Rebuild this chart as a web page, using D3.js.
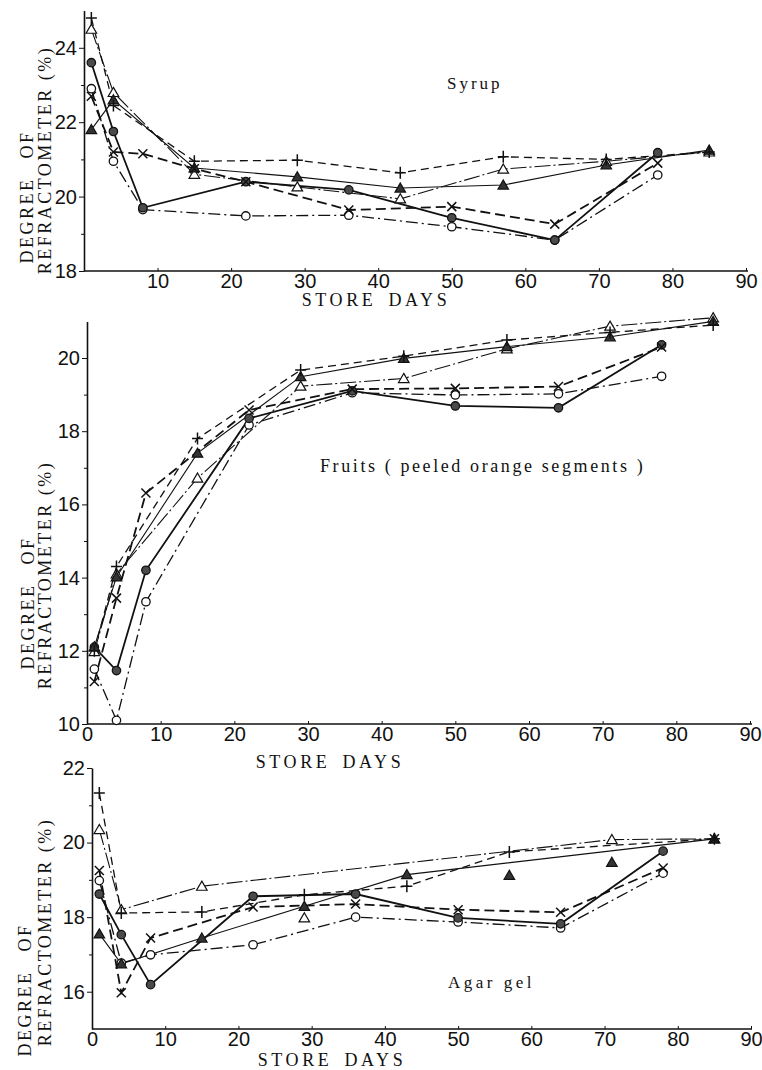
<!DOCTYPE html>
<html>
<head>
<meta charset="utf-8">
<script src="https://cdn.jsdelivr.net/npm/d3@7"></script>
<style>
	body { margin: 0; background: #fff; }
	svg { display: block; }
	.tick text { font-family: 'Liberation Sans Narrow', 'Arial Narrow', 'Liberation Sans', sans-serif; font-size: 20px; fill: #111; }
	.axis path, .axis line { stroke: #111; }
	.serif { font-family: 'Liberation Serif', 'DejaVu Serif', serif; fill: #111; }
</style>
</head>
<body>
<div id="chart"></div>
<script>
// sampling days shared by all panels
const storeDays = [1, 4, 8, 15, 22, 29, 36, 43, 50, 57, 64, 71, 78, 85];

// Syrup
const syrupOpenCircle = [22.9, 20.95, 19.65, null, 19.48, null, 19.5, null, 19.19, null, 18.83, null, 20.58, null];
const syrupFilledCircle = [23.6, 21.75, 19.7, null, 20.4, null, 20.18, null, 19.43, null, 18.83, null, 21.18, null];
const syrupOpenTriangle = [24.5, 22.8, null, 20.6, null, 20.26, null, 19.94, null, 20.74, null, 20.95, null, 21.2];
const syrupFilledTriangle = [21.8, 22.6, null, 20.77, null, 20.53, null, 20.23, null, 20.31, null, 20.85, null, 21.25];
const syrupPlus = [24.8, 22.45, null, 20.95, null, 20.98, null, 20.64, null, 21.07, null, 21.0, null, 21.2];
const syrupCross = [22.7, 21.2, 21.15, 20.75, 20.4, null, 19.64, null, 19.73, null, 19.26, null, 20.9, null];

// Fruits (peeled orange segments)
const fruitOpenCircle = [11.5, 10.1, 13.34, null, 18.17, null, 19.05, null, 18.99, null, 19.02, null, 19.5, null];
const fruitFilledCircle = [12.1, 11.46, 14.2, null, 18.35, null, 19.1, null, 18.69, null, 18.64, null, 20.36, null];
const fruitOpenTriangle = [11.98, 14.1, null, 16.72, null, 19.23, null, 19.44, null, 20.25, null, 20.87, null, 21.1];
const fruitFilledTriangle = [12.11, 14.02, null, 17.4, null, 19.49, null, 19.99, null, 20.31, null, 20.58, null, 21.0];
const fruitPlus = [12.0, 14.3, null, 17.8, null, 19.67, null, 20.05, null, 20.49, null, 20.7, null, 20.9];
const fruitCross = [11.16, 13.44, 16.31, null, 18.58, null, 19.15, null, 19.17, null, 19.22, null, 20.3, null];

// Agar gel
const agarOpenCircle = [18.98, 16.77, 16.99, null, 17.26, null, 18.0, null, 17.87, null, 17.71, null, 19.18, null];
const agarFilledCircle = [18.62, 17.53, 16.19, null, 18.56, null, 18.62, null, 17.98, null, 17.82, null, 19.77, null];
const agarOpenTriangle = [20.35, 18.2, null, 18.83, null, null, null, null, null, null, null, 20.08, null, 20.1];
const agarFilledTriangle = [17.55, 16.75, null, 17.44, null, 18.29, null, 19.14, null, null, null, null, null, 20.1];
const agarPlus = [21.33, 18.11, null, 18.14, null, 18.6, null, 18.83, null, 19.75, null, null, null, 20.1];
const agarCross = [19.25, 15.97, 17.44, null, 18.27, null, 18.35, null, 18.2, null, 18.13, null, 19.32, null];
// points plotted without a joining line
const agarLooseKind = ['openTriangle', 'filledTriangle', 'filledTriangle', 'cross'];
const agarLooseDay = [29, 57, 71, 85];
const agarLooseValue = [17.98, 19.12, 19.47, 20.1];

// tick labels
const xTicksSyrup = [10, 20, 30, 40, 50, 60, 70, 80, 90];
const xTicksFull = [0, 10, 20, 30, 40, 50, 60, 70, 80, 90];
const syrupYTicks = [18, 20, 22, 24];
const syrupYMinor = [19, 21, 23];
const fruitYTicks = [10, 12, 14, 16, 18, 20];
const fruitYMinor = [11, 13, 15, 17, 19];
const agarYTicks = [16, 18, 20, 22];
const agarYMinor = [17, 19, 21];

const lineStyle = {
	openCircle: { dash: '12,4,2,4', width: 1.3 },
	filledCircle: { dash: null, width: 1.8 },
	openTriangle: { dash: '16,3,2,3', width: 1.1 },
	filledTriangle: { dash: null, width: 1.1 },
	plus: { dash: '8,5', width: 1.3 },
	cross: { dash: '10,5', width: 1.8 },
};

const svg = d3.select('#chart').append('svg')
	.attr('width', 762)
	.attr('height', 1070);

function drawMarker(g, kind, cx, cy) {
	if (kind === 'openCircle' || kind === 'filledCircle') {
		g.append('circle')
			.attr('cx', cx).attr('cy', cy).attr('r', 4.2)
			.style('fill', kind === 'openCircle' ? '#fff' : '#4a4a4a')
			.style('stroke', '#111').style('stroke-width', 1.3);
	} else if (kind === 'openTriangle' || kind === 'filledTriangle') {
		const tri = d3.symbol().type(d3.symbolTriangle).size(48);
		g.append('path')
			.attr('d', tri())
			.attr('transform', `translate(${cx},${cy + 1})`)
			.style('fill', kind === 'openTriangle' ? '#fff' : '#333')
			.style('stroke', '#111').style('stroke-width', 1.2);
	} else if (kind === 'plus') {
		g.append('path')
			.attr('d', `M${cx - 5.5},${cy}H${cx + 5.5}M${cx},${cy - 6}V${cy + 6}`)
			.style('stroke', '#111').style('stroke-width', 1.5);
	} else if (kind === 'cross') {
		g.append('path')
			.attr('d', `M${cx - 4.5},${cy - 4.5}L${cx + 4.5},${cy + 4.5}M${cx + 4.5},${cy - 4.5}L${cx - 4.5},${cy + 4.5}`)
			.style('stroke', '#111').style('stroke-width', 1.5);
	}
}

function drawPanel(p) {
	const x = d3.scaleLinear().domain([0, 90]).range(p.xRange);
	const y = d3.scaleLinear().domain(p.yDomain).range(p.yRange);
	const g = svg.append('g');

	// axes
	const xAxis = d3.axisBottom(x)
		.tickValues(p.xTicks)
		.tickFormat(d3.format('d'))
		.tickSize(-3)
		.tickSizeOuter(0)
		.tickPadding(3);
	g.append('g')
		.attr('class', 'axis')
		.attr('transform', `translate(0,${p.yRange[0]})`)
		.call(xAxis)
		.call(a => a.select('.domain').attr('d', `M${p.xRange[0]},0H${p.xEnd}`).style('stroke-width', 1.6));

	const yAxis = d3.axisLeft(y)
		.tickValues(p.yTicks)
		.tickFormat(d3.format('d'))
		.tickSize(5)
		.tickSizeOuter(0)
		.tickPadding(2);
	g.append('g')
		.attr('class', 'axis')
		.attr('transform', `translate(${p.xRange[0]},0)`)
		.call(yAxis)
		.call(a => a.select('.domain').style('stroke-width', 1.6));
	g.append('g')
		.attr('class', 'axis')
		.attr('transform', `translate(${p.xRange[0]},0)`)
		.call(d3.axisLeft(y).tickValues(p.yMinor).tickSize(3).tickFormat(''))
		.call(a => a.select('.domain').remove());

	// lines
	const lineFunc = d3.line()
		.x(d => x(d.day))
		.y(d => y(d.value));
	Object.keys(p.series).forEach(kind => {
		const pts = storeDays
			.map((day, i) => ({ day: day, value: p.series[kind][i] }))
			.filter(d => d.value !== null);
		const st = lineStyle[kind];
		g.append('path')
			.attr('d', lineFunc(pts))
			.style('fill', 'none')
			.style('stroke', '#111')
			.style('stroke-width', st.width)
			.style('stroke-dasharray', st.dash);
	});

	// markers
	const markers = g.append('g');
	Object.keys(p.series).forEach(kind => {
		storeDays.forEach((day, i) => {
			const v = p.series[kind][i];
			if (v !== null) drawMarker(markers, kind, x(day), y(v));
		});
	});
	if (p.loose) {
		p.loose.kind.forEach((kind, i) => {
			drawMarker(markers, kind, x(p.loose.day[i]), y(p.loose.value[i]));
		});
	}

	// texts
	g.append('text')
		.attr('class', 'serif')
		.attr('x', p.title.x)
		.attr('y', p.title.y)
		.style('font-size', p.title.size + 'px')
		.style('letter-spacing', p.title.spacing + 'px')
		.text(p.title.text);

	g.append('text')
		.attr('class', 'serif')
		.attr('x', p.xLabel[0])
		.attr('y', p.xLabel[1])
		.style('font-size', '18px')
		.style('letter-spacing', '3.6px')
		.style('word-spacing', '4px')
		.style('text-anchor', 'middle')
		.text('STORE DAYS');

	g.append('text')
		.attr('class', 'serif')
		.attr('transform', `translate(${p.yLabel1[0]},${p.yLabel1[1]}) rotate(-90)`)
		.style('font-size', '18px')
		.style('letter-spacing', '2.5px')
		.style('word-spacing', '12px')
		.style('text-anchor', 'middle')
		.style('dominant-baseline', 'central')
		.text('DEGREE OF');
	g.append('text')
		.attr('class', 'serif')
		.attr('transform', `translate(${p.yLabel2[0]},${p.yLabel2[1]}) rotate(-90)`)
		.style('font-size', '18px')
		.style('letter-spacing', '2.5px')
		.style('text-anchor', 'middle')
		.style('dominant-baseline', 'central')
		.text('REFRACTOMETER (%)');
}

drawPanel({
	xRange: [84, 746], xEnd: 748, xTicks: xTicksSyrup,
	yDomain: [18, 25], yRange: [271, 10.6], yTicks: syrupYTicks, yMinor: syrupYMinor,
	series: {
		openCircle: syrupOpenCircle, filledCircle: syrupFilledCircle,
		openTriangle: syrupOpenTriangle, filledTriangle: syrupFilledTriangle,
		plus: syrupPlus, cross: syrupCross,
	},
	title: { text: 'Syrup', x: 447, y: 89, size: 17, spacing: 3 },
	xLabel: [376, 306],
	yLabel1: [27, 197], yLabel2: [45, 160],
});

drawPanel({
	xRange: [87, 750], xEnd: 752, xTicks: xTicksFull,
	yDomain: [10, 21], yRange: [724, 321.4], yTicks: fruitYTicks, yMinor: fruitYMinor,
	series: {
		openCircle: fruitOpenCircle, filledCircle: fruitFilledCircle,
		openTriangle: fruitOpenTriangle, filledTriangle: fruitFilledTriangle,
		plus: fruitPlus, cross: fruitCross,
	},
	title: { text: 'Fruits ( peeled orange segments )', x: 320, y: 472, size: 18, spacing: 2.6 },
	xLabel: [330, 768],
	yLabel1: [28, 603], yLabel2: [45, 575],
});

drawPanel({
	xRange: [92, 751], xEnd: 752, xTicks: xTicksFull,
	yDomain: [15, 22], yRange: [1029, 768], yTicks: agarYTicks, yMinor: agarYMinor,
	series: {
		openCircle: agarOpenCircle, filledCircle: agarFilledCircle,
		openTriangle: agarOpenTriangle, filledTriangle: agarFilledTriangle,
		plus: agarPlus, cross: agarCross,
	},
	loose: { kind: agarLooseKind, day: agarLooseDay, value: agarLooseValue },
	title: { text: 'Agar gel', x: 448, y: 988, size: 17, spacing: 3.5 },
	xLabel: [332, 1066],
	yLabel1: [25, 990], yLabel2: [45, 932],
});
</script>
</body>
</html>
